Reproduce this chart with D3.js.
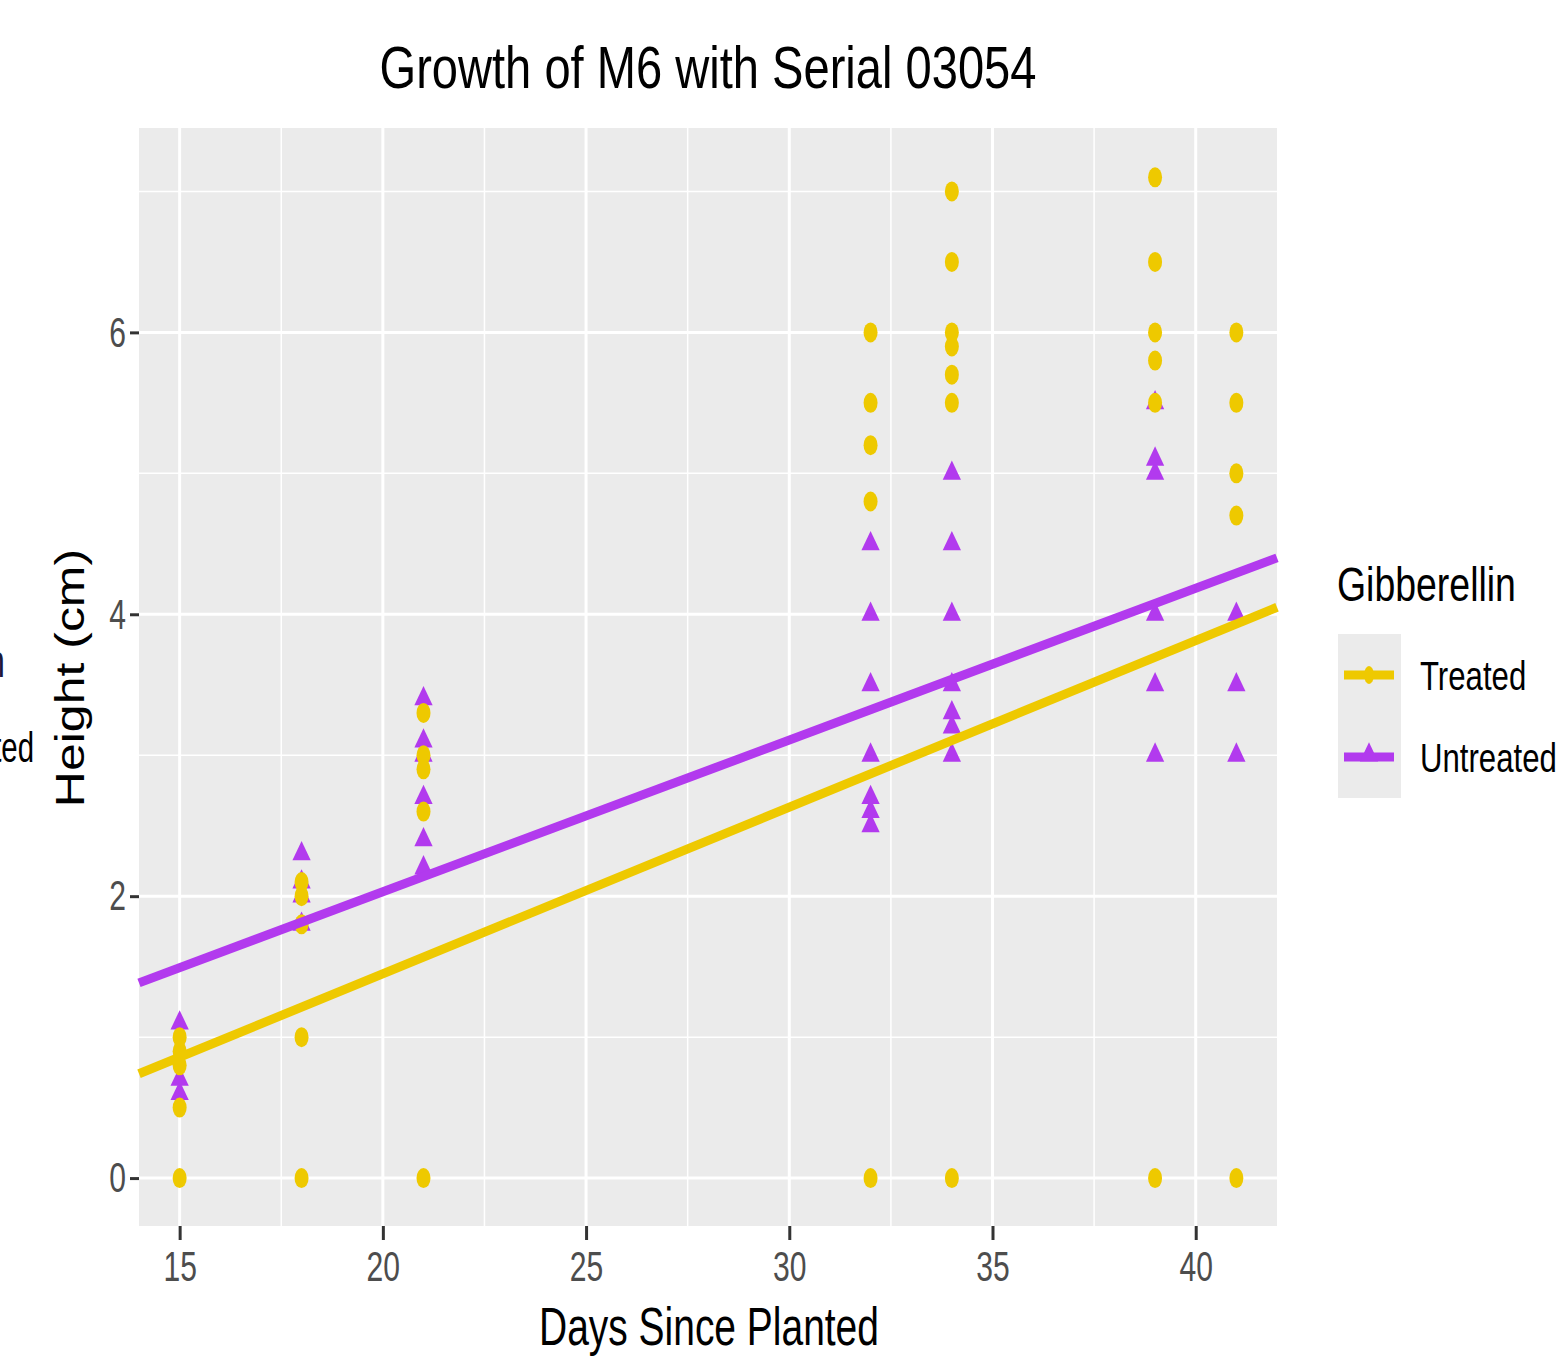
<!DOCTYPE html>
<html>
<head>
<meta charset="utf-8">
<script src="https://cdn.jsdelivr.net/npm/d3@7"></script>
<style>
  body { margin: 0; background: #fff; }
  text { font-family: "Liberation Sans", Arial, sans-serif; }
</style>
</head>
<body>
<div id="chart-area"></div>
<script>
// Data
const days = [15, 18, 21, 32, 34, 39, 41];

// heights per day (cm), same order as days
const treatedHeights = [
    [0, 0.5, 0.8, 0.9, 1.0],
    [0, 1.0, 1.8, 2.0, 2.1],
    [0, 2.6, 2.9, 3.0, 3.3],
    [0, 4.8, 5.2, 5.5, 6.0],
    [0, 5.5, 5.7, 5.9, 6.0, 6.5, 7.0],
    [0, 5.5, 5.8, 6.0, 6.5, 7.1],
    [0, 4.7, 5.0, 5.5, 6.0]
];
const untreatedHeights = [
    [0.6, 0.7, 1.1],
    [1.8, 2.0, 2.1, 2.3],
    [2.2, 2.4, 2.7, 3.0, 3.1, 3.4],
    [2.5, 2.6, 2.7, 3.0, 3.5, 4.0, 4.5],
    [3.0, 3.2, 3.3, 3.5, 4.0, 4.5, 5.0],
    [3.0, 3.5, 4.0, 5.0, 5.1, 5.5],
    [3.0, 3.5, 4.0]
];

// linear fit lines, end points
const fitDays = [14, 42];
const fitTreated = [0.74, 4.05];
const fitUntreated = [1.385, 4.40];

const xTicks = [15, 20, 25, 30, 35, 40];
const xMinor = [17.5, 22.5, 27.5, 32.5, 37.5];
const yTicks = [0, 2, 4, 6];
const yMinor = [1, 3, 5, 7];

const groups = ['Treated', 'Untreated'];
const colors = { Treated: '#EEC900', Untreated: '#B23AEE' };

// Flatten
const flat = (arr, g) => arr.flatMap((hs, i) => hs.map((h) => ({ day: days[i], h: h, g: g })));
const treatedPts = flat(treatedHeights, 'Treated');
const untreatedPts = flat(untreatedHeights, 'Untreated');

// Layout
const W = 1567, H = 1357;
const panel = { left: 139, right: 1277, top: 128, bottom: 1226 };

const svg = d3.select('#chart-area')
    .append('svg')
        .attr('width', W)
        .attr('height', H);

const x = d3.scaleLinear().domain([14, 42]).range([panel.left, panel.right]);
const y = d3.scaleLinear().domain([-0.34, 7.45]).range([panel.bottom, panel.top]);

// squashed text helper
const label = (parent, tx, ty, str, size, sx, anchor, color, rot) => {
    return parent.append('text')
        .attr('transform', 'translate(' + tx + ',' + ty + ') scale(' + sx + ',1)' + (rot ? ' rotate(' + rot + ')' : ''))
        .attr('font-size', size + 'px')
        .attr('text-anchor', anchor)
        .attr('fill', color)
        .text(str);
};

// Panel background
svg.append('rect')
    .attr('x', panel.left)
    .attr('y', panel.top)
    .attr('width', panel.right - panel.left)
    .attr('height', panel.bottom - panel.top)
    .attr('fill', '#EBEBEB');

// Grid
const grid = svg.append('g');
grid.selectAll('.xminor').data(xMinor).enter().append('line')
    .attr('x1', (d) => x(d)).attr('x2', (d) => x(d))
    .attr('y1', panel.top).attr('y2', panel.bottom)
    .attr('stroke', '#fff').attr('stroke-width', 1.5);
grid.selectAll('.yminor').data(yMinor).enter().append('line')
    .attr('y1', (d) => y(d)).attr('y2', (d) => y(d))
    .attr('x1', panel.left).attr('x2', panel.right)
    .attr('stroke', '#fff').attr('stroke-width', 1.5);
grid.selectAll('.xmajor').data(xTicks).enter().append('line')
    .attr('x1', (d) => x(d)).attr('x2', (d) => x(d))
    .attr('y1', panel.top).attr('y2', panel.bottom)
    .attr('stroke', '#fff').attr('stroke-width', 3);
grid.selectAll('.ymajor').data(yTicks).enter().append('line')
    .attr('y1', (d) => y(d)).attr('y2', (d) => y(d))
    .attr('x1', panel.left).attr('x2', panel.right)
    .attr('stroke', '#fff').attr('stroke-width', 3);

// Axes
const xAxisGroup = svg.append('g')
    .attr('transform', 'translate(0,' + panel.bottom + ')')
    .call(d3.axisBottom(x).tickValues(xTicks).tickSize(14).tickPadding(10));
const yAxisGroup = svg.append('g')
    .attr('transform', 'translate(' + panel.left + ',0)')
    .call(d3.axisLeft(y).tickValues(yTicks).tickSize(9).tickPadding(9));

[xAxisGroup, yAxisGroup].forEach((a) => {
    a.select('.domain').remove();
    a.selectAll('line').attr('stroke', '#333').attr('stroke-width', 3);
    a.selectAll('text')
        .attr('font-size', '43px')
        .attr('fill', '#4D4D4D')
        .attr('font-family', '"Liberation Sans", Arial, sans-serif');
});
xAxisGroup.selectAll('text').attr('transform', 'scale(0.7,1)');
yAxisGroup.selectAll('text').attr('transform', 'scale(0.7,1)').attr('x', -13 / 0.7);

// Points: untreated triangles first, treated circles on top
const tri = d3.symbol().type(d3.symbolTriangle).size(215);
svg.append('g').selectAll('path')
    .data(untreatedPts)
    .enter().append('path')
        .attr('d', tri)
        .attr('transform', (d) => 'translate(' + x(d.day) + ',' + y(d.h) + ') scale(0.82,1)')
        .attr('fill', colors.Untreated);

svg.append('g').selectAll('ellipse')
    .data(treatedPts)
    .enter().append('ellipse')
        .attr('cx', (d) => x(d.day))
        .attr('cy', (d) => y(d.h))
        .attr('rx', 7)
        .attr('ry', 10)
        .attr('fill', colors.Treated);

// Fit lines
const line = d3.line().x((d) => x(d[0])).y((d) => y(d[1]));
svg.append('path')
    .attr('d', line(fitDays.map((d, i) => [d, fitTreated[i]])))
    .attr('stroke', colors.Treated).attr('stroke-width', 9).attr('fill', 'none');
svg.append('path')
    .attr('d', line(fitDays.map((d, i) => [d, fitUntreated[i]])))
    .attr('stroke', colors.Untreated).attr('stroke-width', 9).attr('fill', 'none');

// Title and axis labels
label(svg, 708, 88, 'Growth of M6 with Serial 03054', 60, 0.785, 'middle', '#000');
label(svg, 709, 1345, 'Days Since Planted', 53, 0.735, 'middle', '#000');
label(svg, 84, 678, 'Height (cm)', 50, 0.8, 'middle', '#000', -90);

// Legend
const legend = svg.append('g');
label(legend, 1337, 601, 'Gibberellin', 48, 0.78, 'start', '#000');
legend.append('rect')
    .attr('x', 1338).attr('y', 634)
    .attr('width', 63).attr('height', 164)
    .attr('fill', '#EBEBEB');
const keyY = { Treated: 675, Untreated: 757 };
groups.forEach((g) => {
    legend.append('line')
        .attr('x1', 1344).attr('x2', 1394)
        .attr('y1', keyY[g]).attr('y2', keyY[g])
        .attr('stroke', colors[g]).attr('stroke-width', 9);
    if (g === 'Treated') {
        legend.append('ellipse')
            .attr('cx', 1369).attr('cy', keyY[g])
            .attr('rx', 5).attr('ry', 9)
            .attr('fill', colors[g]);
    } else {
        legend.append('path')
            .attr('d', tri)
            .attr('transform', 'translate(1369,' + (keyY[g] - 2) + ') scale(0.82,1)')
            .attr('fill', colors[g]);
    }
    label(legend, 1420, keyY[g] + 15, g, 41, 0.76, 'start', '#000');
});

// remnants of a neighbouring panel cut at the left edge
label(svg, 5, 677, 'Gibberellin', 46, 0.72, 'end', '#1a1a3a');
label(svg, 34, 762, 'Untreated', 42, 0.7, 'end', '#000');
</script>
</body>
</html>
